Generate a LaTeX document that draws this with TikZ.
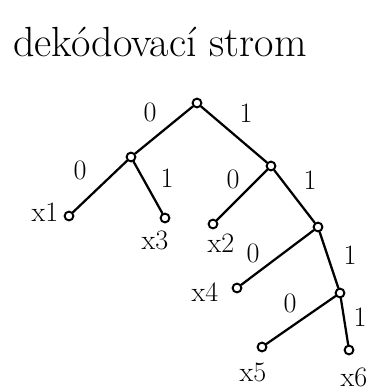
\documentclass[tikz,border=0pt]{standalone}
\usepackage{tikz}
\tikzset{
  treenode/.style={
    circle, draw=black, line width=1.4pt, fill=white,
    inner sep=0pt, minimum size=0.22cm
  },
  bitlabel/.style={font=\fontsize{20}{24}\selectfont, inner sep=1pt},
  leaflabel/.style={font=\fontsize{20}{24}\selectfont, inner sep=1pt},
  treeEdge/.style={line width=1.6pt, line cap=round}
}
\begin{document}
\begin{tikzpicture}[x=0.025cm, y=-0.025cm]
  \useasboundingbox (0,0) rectangle (376,392);
  \node[font=\fontsize{30}{36}\selectfont, anchor=west, inner sep=0pt] (title)
    at (13,42) {dekódovací strom};
  % inner nodes
  \node[treenode] (root) at (197,103) {};
  \node[treenode] (n0) at (131,157) {};
  \node[treenode] (n1) at (271,166) {};
  \node[treenode] (n11) at (318,227) {};
  \node[treenode] (n111) at (340,293) {};
  % leaves
  \node[treenode] (x1) at (69,216) {};
  \node[treenode] (x3) at (165,218) {};
  \node[treenode] (x2) at (213,224) {};
  \node[treenode] (x4) at (237,288) {};
  \node[treenode] (x5) at (262,347) {};
  \node[treenode] (x6) at (349,350) {};
  % edges
  \draw[treeEdge] (root) -- (n0);
  \draw[treeEdge] (root) -- (n1);
  \draw[treeEdge] (n0) -- (x1);
  \draw[treeEdge] (n0) -- (x3);
  \draw[treeEdge] (n1) -- (x2);
  \draw[treeEdge] (n1) -- (n11);
  \draw[treeEdge] (n11) -- (x4);
  \draw[treeEdge] (n11) -- (n111);
  \draw[treeEdge] (n111) -- (x5);
  \draw[treeEdge] (n111) -- (x6);
  % bits on the edges
  \node[bitlabel] (b0) at (150,112) {0};
  \node[bitlabel] (b1) at (246,113) {1};
  \node[bitlabel] (b00) at (80,170) {0};
  \node[bitlabel] (b01) at (167,178) {1};
  \node[bitlabel] (b10) at (233,179) {0};
  \node[bitlabel] (b11) at (310,180) {1};
  \node[bitlabel] (b110) at (253,253) {0};
  \node[bitlabel] (b111) at (350,255) {1};
  \node[bitlabel] (b1110) at (290,303) {0};
  \node[bitlabel] (b1111) at (360,317) {1};
  % leaf names
  \node[leaflabel] (l1) at (45,212) {x1};
  \node[leaflabel] (l3) at (155,240) {x3};
  \node[leaflabel] (l2) at (221,243) {x2};
  \node[leaflabel] (l4) at (205,292) {x4};
  \node[leaflabel] (l5) at (253,372) {x5};
  \node[leaflabel] (l6) at (354,377) {x6};
\end{tikzpicture}
\end{document}
